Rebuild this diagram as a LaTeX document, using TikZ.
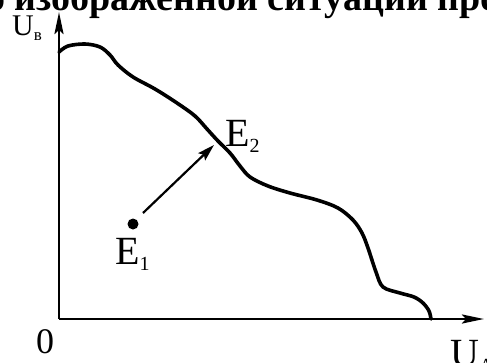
\documentclass[tikz,border=0pt]{standalone}
\usepackage{fontspec}
\setmainfont{Liberation Serif}
\usetikzlibrary{arrows.meta,positioning}
\tikzset{
  axis/.style={line width=2.8pt, -{Stealth[length=22pt,width=9pt,inset=4pt]}},
  curve/.style={line width=3.6pt, line join=round, line cap=round},
  move/.style={line width=2.2pt, -{Stealth[length=17pt,width=10pt,inset=3pt]}},
  lbl/.style={font=\fontsize{40}{40}\selectfont, inner sep=0pt},
  title/.style={font=\fontsize{38}{38}\selectfont\bfseries, inner sep=0pt}
}
\newcommand{\lowsub}[2][-6pt]{\raisebox{#1}{\fontsize{20}{20}\selectfont #2}}
\begin{document}
\begin{tikzpicture}[x=1pt,y=-1pt]
  \useasboundingbox (0,0) rectangle (487,362);
  % heading cut by the page
  \node[title, anchor=base west] (head) at (-14,10) {о изображенной ситуации про};
  % axes
  \coordinate (o) at (59,319);
  \coordinate (ytop) at (59,12);
  \coordinate (xend) at (484,319);
  \draw[axis] (o) -- (ytop);
  \draw[axis] (o) -- (xend);
  \node[lbl, anchor=base, font=\fontsize{36}{36}\selectfont] (zero) at (45,353) {0};
  \node[lbl, anchor=base west, font=\fontsize{30}{30}\selectfont] (ub) at (12,35) {U\lowsub[-5pt]{\fontsize{17}{17}\selectfont в}};
  \node[lbl, anchor=base west] (ua) at (450,366) {U\lowsub{A}};
  % utility frontier
  \draw[curve] plot[smooth, tension=0.55] coordinates {
    (59,52) (68,46) (85,44) (100,47) (110,55) (118,65) (133,77) (155,89)
    (177,103) (195,116) (207,129) (218,141) (230,153) (240,166) (250,177)
    (268,186) (290,193) (317,200) (338,208) (353,220) (362,233) (368,248)
    (376,272) (383,287) (400,293) (414,297) (423,303) (429,311) (431,319)};
  % points
  \fill (133,224) circle (5.5pt) coordinate (e1pt);
  \coordinate (e2pt) at (214,145);
  \node[lbl, anchor=base west] (e1) at (115,264) {E\lowsub{1}};
  \node[lbl, anchor=base west] (e2) at (225,146) {E\lowsub{2}};
  \draw[move] (143,213) -- (e2pt);
\end{tikzpicture}
\end{document}
